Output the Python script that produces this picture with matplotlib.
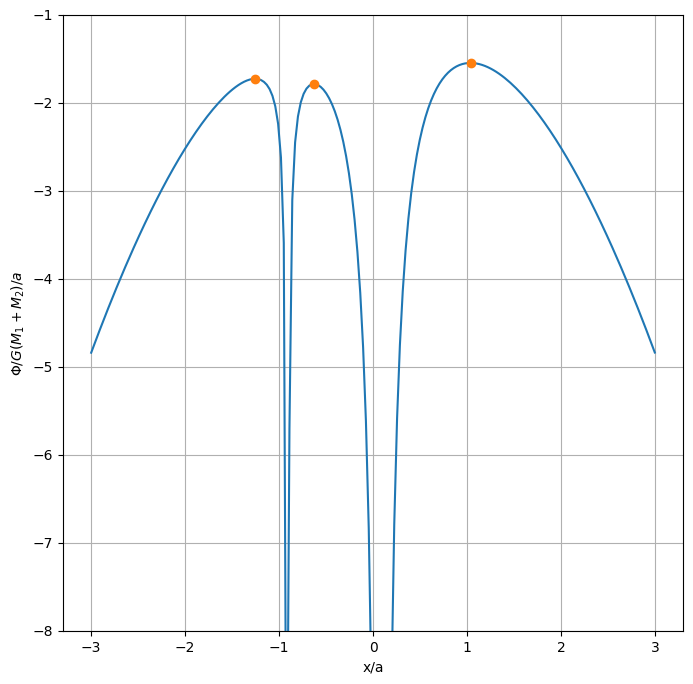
import matplotlib
matplotlib.use('Agg')
import matplotlib.pyplot as plt
import numpy as np

# mass fraction of the smaller star, separation a = 1, G(M1+M2) = 1
mu = 0.09
x_min, x_max, n_pts = -3.0, 3.0, 200

# Lagrange points L2, L1, L3 (x/a)
lagrange_x = [-1.254, -0.628, 1.039]


def roche(x):
    x1, x2 = mu, -(1 - mu)
    return -(1 - mu) / np.abs(x - x1) - mu / np.abs(x - x2) - 0.5 * x ** 2


x = np.linspace(x_min, x_max, n_pts)
phi = roche(x)
lx = np.array(lagrange_x)

fig = plt.figure(figsize=(6.93, 6.84), dpi=100)
ax = fig.add_axes([63 / 693, 53 / 684, 620 / 693, 616 / 684])

ax.plot(x, phi)
ax.scatter(lx, roche(lx), color='C1', zorder=3)

ax.set_ylim(-8, -1)
ax.set_xlabel('x/a')
ax.set_ylabel(r'$\Phi/G(M_1+M_2)/a$')
ax.grid(True)

fig.savefig('out.png', dpi=100)
